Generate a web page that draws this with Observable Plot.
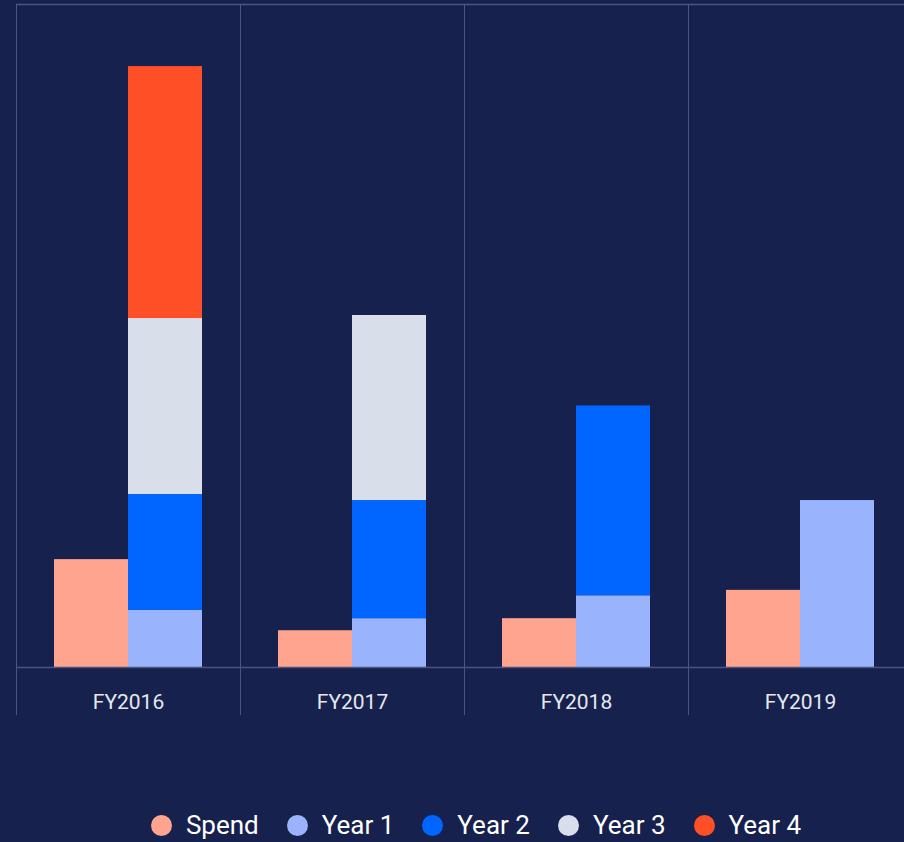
<!DOCTYPE html>
<html>
<head>
<meta charset="utf-8">
<script src="https://cdn.jsdelivr.net/npm/d3@7"></script>
<script src="https://cdn.jsdelivr.net/npm/@observablehq/plot@0.6"></script>
<style>
  html, body { margin: 0; padding: 0; background: #17214d; width: 904px; height: 842px; overflow: hidden; font-family: Roboto, "Noto Sans", sans-serif; }
  #legend { display: flex; justify-content: center; align-items: center; height: 82px; padding-left: 48px; box-sizing: border-box; padding-top: 48px;}
  .item { display: flex; align-items: center; margin: 0 14px; color: #ffffff; font-size: 26px; }
  .dot { width: 21px; height: 21px; border-radius: 50%; margin-right: 14px; }
</style>
</head>
<body>
<div id="chart"></div>
<div id="legend"></div>
<script>
const years = ["FY2016", "FY2017", "FY2018", "FY2019"];
const seriesNames = ["Spend", "Year 1", "Year 2", "Year 3", "Year 4"];
const colors = ["#ffa48f", "#99b4fc", "#0066ff", "#d9dfea", "#ff4f26"];
const spend = [17.9, 6.1, 8.1, 12.8];
const year1 = [9.5, 8.1, 11.9, 27.7];
const year2 = [19.2, 19.6, 31.5, 0];
const year3 = [29.2, 30.7, 0, 0];
const year4 = [41.8, 0, 0, 0];

const spendData = years.map((fy, i) => ({fy, series: "Spend", value: spend[i]}));
const stackData = [];
[year1, year2, year3, year4].forEach((arr, k) => {
  years.forEach((fy, i) => { if (arr[i] > 0) stackData.push({fy, series: seriesNames[k + 1], value: arr[i]}); });
});

const grid = "#4b5580";
const chart = Plot.plot({
  width: 904,
  height: 760,
  marginTop: 4,
  marginBottom: 93,
  marginLeft: 16,
  marginRight: 0,
  style: {background: "transparent", fontFamily: "Roboto, sans-serif"},
  x: {domain: years, range: [16, 912], padding: 0, label: null},
  y: {domain: [0, 110], axis: null},
  color: {domain: seriesNames, range: colors},
  marks: [
    Plot.ruleY([110], {stroke: grid, strokeWidth: 1.5}),
    Plot.ruleX(years, {x: d => d, dx: -112, stroke: grid, strokeWidth: 1, insetBottom: -48}),
    Plot.barY(spendData, {x: "fy", y: "value", fill: "series", insetLeft: 38, insetRight: 112}),
    Plot.barY(stackData, Plot.stackY({x: "fy", y: "value", fill: "series", insetLeft: 112, insetRight: 38, order: seriesNames})),
    Plot.ruleY([0], {stroke: grid, strokeWidth: 1.5}),
    Plot.axisX({tickSize: 0, tickPadding: 27, fontSize: 21, fill: "#e6e8ef", label: null})
  ]
});
document.getElementById("chart").appendChild(chart);

const legend = document.getElementById("legend");
seriesNames.forEach((name, i) => {
  const item = document.createElement("div");
  item.className = "item";
  item.innerHTML = `<span class="dot" style="background:${colors[i]}"></span><span>${name}</span>`;
  legend.appendChild(item);
});
</script>
</body>
</html>
